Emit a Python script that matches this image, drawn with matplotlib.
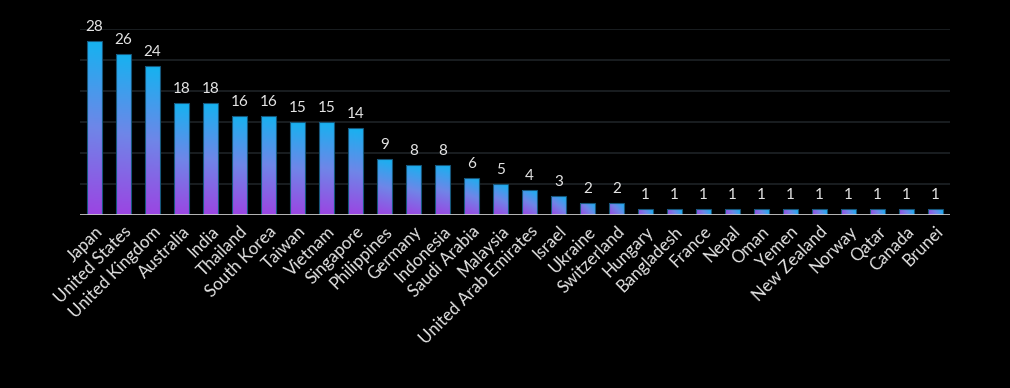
"""국가별 건수 막대 그래프 (그라디언트 막대, 검은 배경)."""

from __future__ import annotations

import matplotlib

matplotlib.use("Agg")

import matplotlib.pyplot as plt
import numpy as np
from matplotlib.colors import LinearSegmentedColormap

countries = [
    "Japan", "United States", "United Kingdom", "Australia", "India",
    "Thailand", "South Korea", "Taiwan", "Vietnam", "Singapore",
    "Philippines", "Germany", "Indonesia", "Saudi Arabia", "Malaysia",
    "United Arab Emirates", "Israel", "Ukraine", "Switzerland", "Hungary",
    "Bangladesh", "France", "Nepal", "Oman", "Yemen",
    "New Zealand", "Norway", "Qatar", "Canada", "Brunei",
]
counts = [
    28, 26, 24, 18, 18,
    16, 16, 15, 15, 14,
    9, 8, 8, 6, 5,
    4, 3, 2, 2, 1,
    1, 1, 1, 1, 1,
    1, 1, 1, 1, 1,
]
grid_values = [5, 10, 15, 20, 25, 30]

BG = "#000000"
TEXT = "#e4e4e4"
GRID = "#1e2226"
BASE = "#c8c8c8"
GRAD = LinearSegmentedColormap.from_list("bar", ["#9b45e2", "#6f86e8", "#16b2f0"])
FONT = ["Lato", "DejaVu Sans"]


def draw_gradient_bars(fig, ax, bars) -> None:
    """막대 크기(픽셀)에 맞춰 좌하단→우상단 방향 그라디언트를 채운다."""
    fig.canvas.draw()
    n = 64
    xs = np.linspace(0, 1, n)
    ys = np.linspace(0, 1, n)
    xn, yn = np.meshgrid(xs, ys)
    for patch in bars:
        x0, y0 = patch.get_x(), patch.get_y()
        w, h = patch.get_width(), patch.get_height()
        (px0, py0), (px1, py1) = ax.transData.transform([(x0, y0), (x0 + w, y0 + h)])
        wp, hp = abs(px1 - px0), abs(py1 - py0)
        t = (xn * wp * wp + yn * hp * hp) / (wp * wp + hp * hp)
        im = ax.imshow(
            t, cmap=GRAD, vmin=0, vmax=1, origin="lower",
            extent=(x0, x0 + w, y0, y0 + h), aspect="auto",
            interpolation="bilinear", zorder=2,
        )
        im.set_clip_path(patch)


def main() -> int:
    fig = plt.figure(figsize=(10.10, 3.88), dpi=100, facecolor=BG)
    ax = fig.add_axes([80 / 1010, 173 / 388, 870 / 1010, 186 / 388])
    ax.set_facecolor(BG)

    x = np.arange(len(countries))
    bars = ax.bar(x, counts, width=0.5, color="none", edgecolor="#16567a",
                  linewidth=0.8, zorder=3)

    ax.set_xlim(-0.5, len(countries) - 0.5)
    ax.set_ylim(0, 30)

    for gv in grid_values:
        ax.axhline(gv, color=GRID, linewidth=1.2, zorder=1)
    ax.axhline(0, color=BASE, linewidth=2, zorder=4)

    for spine in ax.spines.values():
        spine.set_visible(False)
    ax.set_yticks([])
    ax.set_xticks(x)
    ax.set_xticklabels(countries, rotation=45, ha="right", rotation_mode="anchor",
                       color=TEXT, fontsize=12.2, family=FONT)
    ax.tick_params(axis="x", length=0, pad=6)

    for xi, val in zip(x, counts):
        ax.annotate(str(val), (xi, val), xytext=(0, 5), textcoords="offset points",
                    ha="center", va="bottom", color=TEXT, fontsize=11, family=FONT)

    draw_gradient_bars(fig, ax, bars)
    ax.set_xlim(-0.5, len(countries) - 0.5)
    ax.set_ylim(0, 30)

    fig.savefig("out.png", dpi=100, facecolor=BG)
    return 0


if __name__ == "__main__":
    raise SystemExit(main())
